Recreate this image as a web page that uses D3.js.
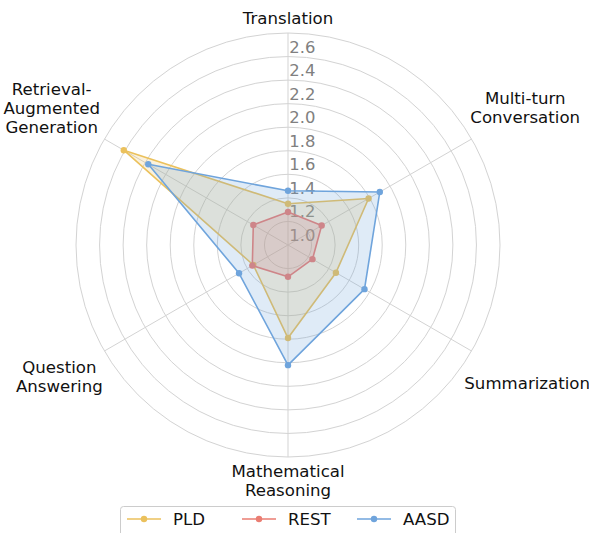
<!DOCTYPE html>
<html lang="en">
<head>
<meta charset="UTF-8">
<script src="https://d3js.org/d3.v7.min.js"></script>
<style>
  body { margin: 0; background: #fff; }
  #plot { position: absolute; left: 0; top: 0; width: 589px; height: 533px; }
  text { font-family: "DejaVu Sans", sans-serif; }
</style>
</head>
<body>
<div id="plot"></div>
<script>
// categories, clockwise from the top
const categories = [
  ["Translation"],
  ["Multi-turn", "Conversation"],
  ["Summarization"],
  ["Mathematical", "Reasoning"],
  ["Question", "Answering"],
  ["Retrieval-", "Augmented", "Generation"]
];
const seriesNames = ["PLD", "REST", "AASD"];
const pldValues  = [1.15, 1.59, 1.27, 1.59, 1.14, 2.41];
const restValues = [1.08, 1.13, 1.04, 1.07, 1.15, 1.14];
const aasdValues = [1.26, 1.70, 1.55, 1.82, 1.28, 2.17];
const radialTicks = [1.0, 1.2, 1.4, 1.6, 1.8, 2.0, 2.2, 2.4, 2.6];
const radialDomain = [0.8, 2.6];

function drawRadar() {
  const width = 589, height = 533;
  const cx = 288, cy = 245, R = 212;
  const colors = ["#ebc15c", "#ea7d72", "#6fa4dc"];
  const series = [pldValues, restValues, aasdValues];

  const svg = d3.select("#plot").append("svg")
      .attr("width", width)
      .attr("height", height);
  const g = svg.append("g").attr("transform", `translate(${cx}, ${cy})`);

  // scales
  const r = d3.scaleLinear().domain(radialDomain).range([0, R]);
  const angle = d3.scaleLinear().domain([0, categories.length]).range([0, 2 * Math.PI]);

  // grid circles
  g.append("g").selectAll("circle")
    .data(radialTicks)
    .join("circle")
      .attr("r", d => r(d))
      .attr("fill", "none")
      .attr("stroke", "#d3d3d3")
      .attr("stroke-width", 1);

  // spokes
  g.append("g").selectAll("line")
    .data(categories)
    .join("line")
      .attr("x1", 0).attr("y1", 0)
      .attr("x2", (d, i) => R * Math.sin(angle(i)))
      .attr("y2", (d, i) => -R * Math.cos(angle(i)))
      .attr("stroke", "#d3d3d3")
      .attr("stroke-width", 1);

  // radial tick labels
  g.append("g").selectAll("text")
    .data(radialTicks)
    .join("text")
      .attr("x", 1.3)
      .attr("y", d => -r(d) + 14)
      .attr("dominant-baseline", "central")
      .attr("fill", "#808080")
      .style("font-size", "16.4px")
      .text(d => d.toFixed(1));

  // series polygons
  const radial = d3.lineRadial()
      .angle((d, i) => angle(i))
      .radius(d => r(d))
      .curve(d3.curveLinearClosed);

  series.forEach((vals, k) => {
    const sg = g.append("g");
    sg.append("path")
      .attr("d", radial(vals))
      .attr("fill", colors[k])
      .attr("fill-opacity", 0.22)
      .attr("stroke", colors[k])
      .attr("stroke-width", 1.6)
      .attr("stroke-linejoin", "round");
    sg.selectAll("circle")
      .data(vals)
      .join("circle")
        .attr("cx", (d, i) => r(d) * Math.sin(angle(i)))
        .attr("cy", (d, i) => -r(d) * Math.cos(angle(i)))
        .attr("r", 3.2)
        .attr("fill", colors[k]);
  });

  // category labels, pushed outward along the spoke until the box clears the rim
  const pad = 5, lineH = 18.7;
  categories.forEach((lines, i) => {
    const a = angle(i);
    const ux = Math.sin(a), uy = -Math.cos(a);
    const t = g.append("text")
        .attr("text-anchor", "middle")
        .style("font-size", "16.6px")
        .attr("fill", "#111");
    lines.forEach((s, j) => {
      t.append("tspan").attr("x", 0).attr("y", j * lineH).text(s);
    });
    const bb = t.node().getBBox();
    const halfW = bb.width / 2, halfH = bb.height / 2;
    const D = R + pad + halfW * Math.abs(ux) + halfH * Math.abs(uy);
    const mx = ux * D, my = uy * D;
    const dy = my - (bb.y + halfH);
    t.selectAll("tspan").attr("x", mx);
    t.attr("transform", `translate(0, ${dy})`);
  });

  // legend
  const lg = svg.append("g");
  lg.append("rect")
    .attr("x", 120.5).attr("y", 506.5)
    .attr("width", 335).attr("height", 36)
    .attr("rx", 3)
    .attr("fill", "#fff")
    .attr("stroke", "#cccccc");
  const legendX = d3.scalePoint().domain(seriesNames).range([127, 357]);
  seriesNames.forEach((name, k) => {
    const x0 = legendX(name);
    const item = lg.append("g").attr("transform", `translate(${x0}, 519)`);
    item.append("line")
      .attr("x1", 0).attr("x2", 34).attr("y1", 0).attr("y2", 0)
      .attr("stroke", colors[k]).attr("stroke-width", 1.6);
    item.append("circle").attr("cx", 17).attr("r", 3.2).attr("fill", colors[k]);
    item.append("text")
      .attr("x", 46).attr("y", 0)
      .attr("dominant-baseline", "central")
      .style("font-size", "16.6px")
      .attr("fill", "#111")
      .text(name);
  });
}

window.onload = drawRadar;
</script>
</body>
</html>
